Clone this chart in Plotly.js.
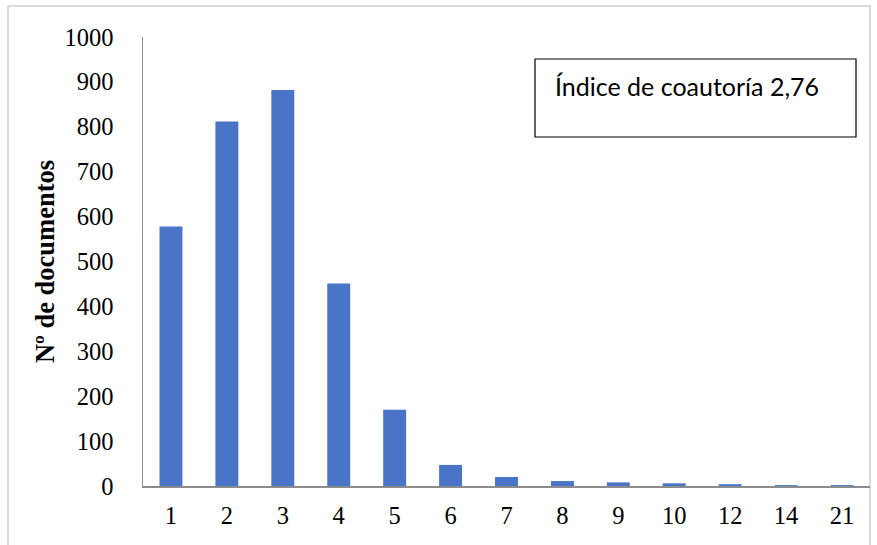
<!DOCTYPE html>
<html>
<head>
<meta charset="utf-8">
<script src="https://cdn.plot.ly/plotly-3.0.1.min.js"></script>
<style>html,body{margin:0;padding:0;background:#fff;}#chart{width:877px;height:545px;}</style>
</head>
<body>
<div id="chart"></div>
<script>
const authors = ['1','2','3','4','5','6','7','8','9','10','12','14','21'];
const documents = [578, 812, 882, 451, 170, 47, 20, 11, 8, 6, 4, 2, 2];
const yTicks = [0,100,200,300,400,500,600,700,800,900,1000];
const boxText = 'Índice de coautoría 2,76';
const yTitle = 'Nº de documentos';

const L = 143, R = 870, T = 37, B = 486;
const px = x => (x - L) / (R - L);
const py = y => (B - y) / (B - T);

const trace = {
  type: 'bar',
  x: authors,
  y: documents,
  marker: {color: '#4a74c8'},
  hoverinfo: 'x+y'
};

const layout = {
  width: 877, height: 545,
  margin: {l: L, r: 877 - R, t: T, b: 545 - B},
  paper_bgcolor: '#ffffff',
  plot_bgcolor: '#ffffff',
  bargap: 0.59,
  showlegend: false,
  xaxis: {
    type: 'category',
    showgrid: false,
    zeroline: false,
    showline: true,
    linecolor: '#8c8c8c',
    linewidth: 1.5,
    ticks: '',
    tickfont: {family: 'Liberation Serif', size: 24.5, color: '#000'},
    ticklabelstandoff: 7
  },
  yaxis: {
    range: [0, 1000],
    tickvals: yTicks,
    showgrid: false,
    zeroline: false,
    showline: true,
    linecolor: '#8c8c8c',
    linewidth: 1.5,
    ticks: '',
    tickfont: {family: 'Liberation Serif', size: 24.5, color: '#000'},
    ticklabelstandoff: 23,
    title: {text: yTitle, font: {family: 'Liberation Serif', size: 26.5, color: '#000', weight: 'bold'}, standoff: 2}
  },
  shapes: [
    {type: 'rect', xref: 'paper', yref: 'paper', x0: px(8), x1: px(870), y0: py(560), y1: py(6),
     line: {color: '#d0d0d0', width: 1.5}, fillcolor: 'rgba(0,0,0,0)', layer: 'below'},
    {type: 'rect', xref: 'paper', yref: 'paper', x0: px(535), x1: px(856), y0: py(137), y1: py(59),
     line: {color: '#000', width: 1.2}, fillcolor: '#fff'}
  ],
  annotations: [
    {xref: 'paper', yref: 'paper', x: px(553), y: py(86), xanchor: 'left', yanchor: 'middle',
     text: boxText, showarrow: false, font: {family: 'Lato', size: 25, color: '#000'}}
  ]
};

Plotly.newPlot('chart', [trace], layout, {displayModeBar: false, staticPlot: true});
</script>
</body>
</html>
